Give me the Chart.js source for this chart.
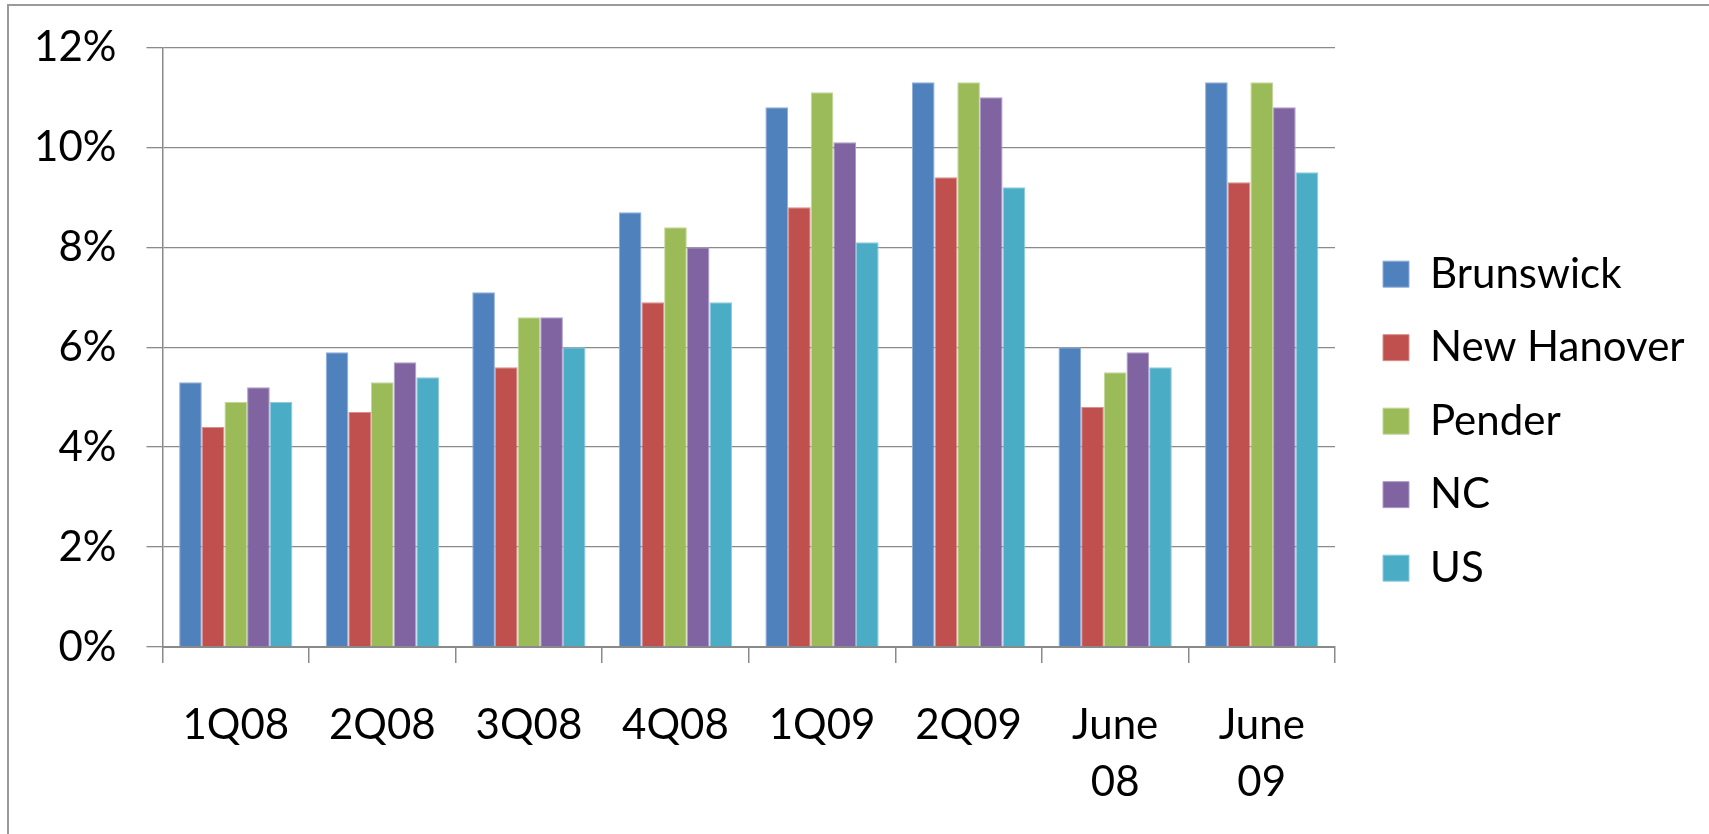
<!DOCTYPE html>
<html lang="en">
<head>
<meta charset="UTF-8">
<title>Unemployment rate</title>
<script src="https://cdn.jsdelivr.net/npm/chart.js"></script>
<style>
  html, body { margin: 0; padding: 0; background: #fff; overflow: hidden; }
  /* thin grey frame around the chart (right/bottom run off the page) */
  .frame { position: absolute; left: 7px; top: 4px; width: 1740px; height: 880px; border: 2px solid #9a9a9a; box-sizing: border-box; }
  .wrap { position: absolute; left: 0; top: 0; width: 1709px; height: 834px; }
</style>
</head>
<body>
<div class="frame"></div>
<div class="wrap"><canvas id="myChart"></canvas></div>
<script>
// unemployment rate, %
const periods = ['1Q08', '2Q08', '3Q08', '4Q08', '1Q09', '2Q09', ['June', '08'], ['June', '09']];
const brunswick = [5.3, 5.9, 7.1, 8.7, 10.8, 11.3, 6.0, 11.3];
const newHanover = [4.4, 4.7, 5.6, 6.9, 8.8, 9.4, 4.8, 9.3];
const pender = [4.9, 5.3, 6.6, 8.4, 11.1, 11.3, 5.5, 11.3];
const nc = [5.2, 5.7, 6.6, 8.0, 10.1, 11.0, 5.9, 10.8];
const us = [4.9, 5.4, 6.0, 6.9, 8.1, 9.2, 5.6, 9.5];
const seriesNames = ['Brunswick', 'New Hanover', 'Pender', 'NC', 'US'];
const yTicks = [0, 2, 4, 6, 8, 10, 12];

const FONT = { family: 'Lato', size: 42, lineHeight: 57 / 42 };
const GRID = '#8a8a8a';
const BOX = 26, LEGEND_PAD = 31.5;

// legend sits flush with the right edge: size the right padding from the longest name
const meas = document.createElement('canvas').getContext('2d');
meas.font = FONT.size + 'px ' + FONT.family;
const longest = Math.max(...seriesNames.map(s => meas.measureText(s).width));
const padRight = Math.max(0, 1709 - 10 - 1383 - BOX - FONT.size / 2 - longest);

// lift the legend block a little above its centred spot
const legendNudge = {
    id: 'legendNudge',
    afterLayout(chart) { chart.legend.bottom -= 15.5; }
};

const ctx = document.getElementById('myChart');

new Chart(ctx, {
    type: 'bar',
    data: {
        labels: periods,
        datasets: [
            { label: seriesNames[0], data: brunswick, backgroundColor: '#4f81bd', borderColor: '#8fadd8' },
            { label: seriesNames[1], data: newHanover, backgroundColor: '#c0504d', borderColor: '#d98f8c' },
            { label: seriesNames[2], data: pender, backgroundColor: '#9bbb59', borderColor: '#c2d69a' },
            { label: seriesNames[3], data: nc, backgroundColor: '#8064a2', borderColor: '#ad9bc6' },
            { label: seriesNames[4], data: us, backgroundColor: '#4bacc6', borderColor: '#8fcbdc' }
        ]
    },
    options: {
        responsive: true,
        maintainAspectRatio: false,
        animation: false,
        datasets: {
            bar: { borderWidth: 1, barPercentage: 1, categoryPercentage: 0.773 }
        },
        layout: {
            padding: { left: 37, top: 47.3, right: padRight, bottom: 23.5 }
        },
        scales: {
            x: {
                grid: { drawOnChartArea: false, drawTicks: true, tickLength: 16, color: GRID, lineWidth: 1.5 },
                border: { color: GRID, width: 2 },
                ticks: { color: '#000', font: FONT, padding: 33.5, autoSkip: false, maxRotation: 0 },
                afterFit: (scale) => { scale.height = 163.5; scale.paddingLeft = 0; scale.paddingRight = 0; }
            },
            y: {
                min: 0,
                max: 12,
                afterBuildTicks: (scale) => { scale.ticks = yTicks.map(v => ({ value: v })); },
                grid: { color: GRID, lineWidth: 1.3, tickLength: 16 },
                border: { color: GRID, width: 1.5 },
                ticks: { color: '#000', font: FONT, padding: 30, callback: (v) => v + '%' },
                afterFit: (scale) => { scale.width = 125.5; scale.paddingTop = 0; scale.paddingBottom = 0; }
            },
            // hidden spacer between the plot and the legend
            gap: {
                type: 'linear',
                position: 'right',
                display: false,
                afterFit: (scale) => { scale.width = 48 - LEGEND_PAD; }
            }
        },
        plugins: {
            legend: {
                position: 'right',
                labels: {
                    color: '#000',
                    font: FONT,
                    boxWidth: BOX,
                    boxHeight: BOX,
                    padding: LEGEND_PAD
                }
            },
            tooltip: { enabled: false }
        }
    },
    plugins: [legendNudge]
});
</script>
</body>
</html>
